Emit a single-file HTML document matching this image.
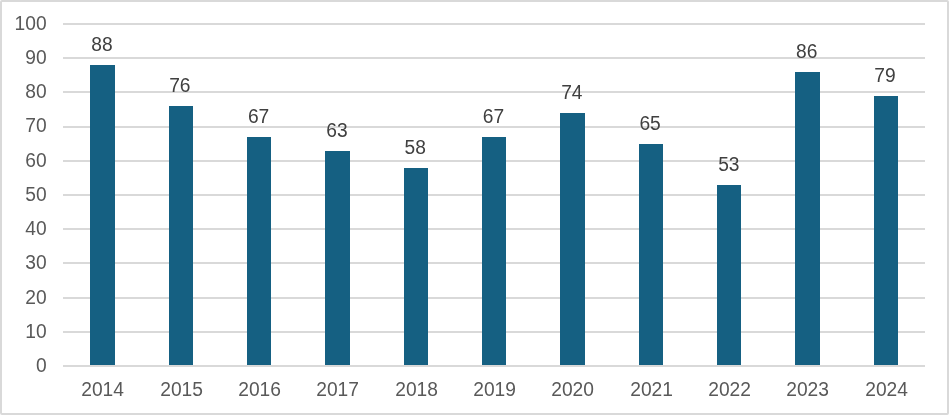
<!DOCTYPE html>
<html lang="en">
<head>
<meta charset="utf-8">
<title>Bar chart 2014-2024</title>
<style>
html,body{margin:0;padding:0;background:#fff;}
body{width:949px;height:415px;overflow:hidden;}
svg{display:block;}
text{font-family:"Liberation Sans",sans-serif;font-size:20px;}
.ax{fill:#595959;}
.dl{fill:#404040;}
.g{fill:#d9d9d9;}
.b{fill:#156082;}
</style>
</head>
<body>
<svg width="949" height="415" viewBox="0 0 949 415">
<rect x="1" y="1" width="947" height="413" rx="1" ry="1" fill="#ffffff" stroke="#d9d9d9" stroke-width="2"/>
<g shape-rendering="crispEdges">
<rect class="g" x="63" y="23" width="862" height="2"/>
<rect class="g" x="63" y="57" width="862" height="2"/>
<rect class="g" x="63" y="91" width="862" height="2"/>
<rect class="g" x="63" y="126" width="862" height="2"/>
<rect class="g" x="63" y="160" width="862" height="2"/>
<rect class="g" x="63" y="194" width="862" height="2"/>
<rect class="g" x="63" y="228" width="862" height="2"/>
<rect class="g" x="63" y="262" width="862" height="2"/>
<rect class="g" x="63" y="297" width="862" height="2"/>
<rect class="g" x="63" y="331" width="862" height="2"/>
<rect class="g" x="63" y="365" width="862" height="2"/>
</g>
<g shape-rendering="crispEdges">
<rect class="b" x="90" y="65" width="25" height="300"/>
<rect class="b" x="169" y="106" width="24" height="259"/>
<rect class="b" x="247" y="137" width="24" height="228"/>
<rect class="b" x="325" y="151" width="25" height="214"/>
<rect class="b" x="404" y="168" width="24" height="197"/>
<rect class="b" x="482" y="137" width="24" height="228"/>
<rect class="b" x="560" y="113" width="25" height="252"/>
<rect class="b" x="639" y="144" width="24" height="221"/>
<rect class="b" x="717" y="185" width="24" height="180"/>
<rect class="b" x="795" y="72" width="25" height="293"/>
<rect class="b" x="874" y="96" width="24" height="269"/>
</g>
<g class="ax" text-anchor="end">
<text transform="translate(46.6,30) scale(0.96,1)">100</text>
<text transform="translate(46.6,64) scale(0.96,1)">90</text>
<text transform="translate(46.6,98) scale(0.96,1)">80</text>
<text transform="translate(46.6,132) scale(0.96,1)">70</text>
<text transform="translate(46.6,167) scale(0.96,1)">60</text>
<text transform="translate(46.6,201) scale(0.96,1)">50</text>
<text transform="translate(46.6,235) scale(0.96,1)">40</text>
<text transform="translate(46.6,269) scale(0.96,1)">30</text>
<text transform="translate(46.6,304) scale(0.96,1)">20</text>
<text transform="translate(46.6,338) scale(0.96,1)">10</text>
<text transform="translate(46.6,372) scale(0.96,1)">0</text>
</g>
<g class="ax" text-anchor="middle">
<text transform="translate(102.6,396) scale(0.96,1)">2014</text>
<text transform="translate(181.6,396) scale(0.96,1)">2015</text>
<text transform="translate(259.6,396) scale(0.96,1)">2016</text>
<text transform="translate(337.6,396) scale(0.96,1)">2017</text>
<text transform="translate(416.6,396) scale(0.96,1)">2018</text>
<text transform="translate(494.6,396) scale(0.96,1)">2019</text>
<text transform="translate(572.6,396) scale(0.96,1)">2020</text>
<text transform="translate(651.6,396) scale(0.96,1)">2021</text>
<text transform="translate(729.6,396) scale(0.96,1)">2022</text>
<text transform="translate(807.6,396) scale(0.96,1)">2023</text>
<text transform="translate(886.6,396) scale(0.96,1)">2024</text>
</g>
<g class="dl" text-anchor="middle">
<text transform="translate(102.0,51) scale(0.96,1)">88</text>
<text transform="translate(179.8,92) scale(0.96,1)">76</text>
<text transform="translate(258.6,123) scale(0.96,1)">67</text>
<text transform="translate(336.9,137) scale(0.96,1)">63</text>
<text transform="translate(415.2,154) scale(0.96,1)">58</text>
<text transform="translate(493.5,123) scale(0.96,1)">67</text>
<text transform="translate(571.8,99) scale(0.96,1)">74</text>
<text transform="translate(650.1,130) scale(0.96,1)">65</text>
<text transform="translate(728.8,171) scale(0.96,1)">53</text>
<text transform="translate(806.7,58) scale(0.96,1)">86</text>
<text transform="translate(885.0,82) scale(0.96,1)">79</text>
</g>
</svg>
</body>
</html>
